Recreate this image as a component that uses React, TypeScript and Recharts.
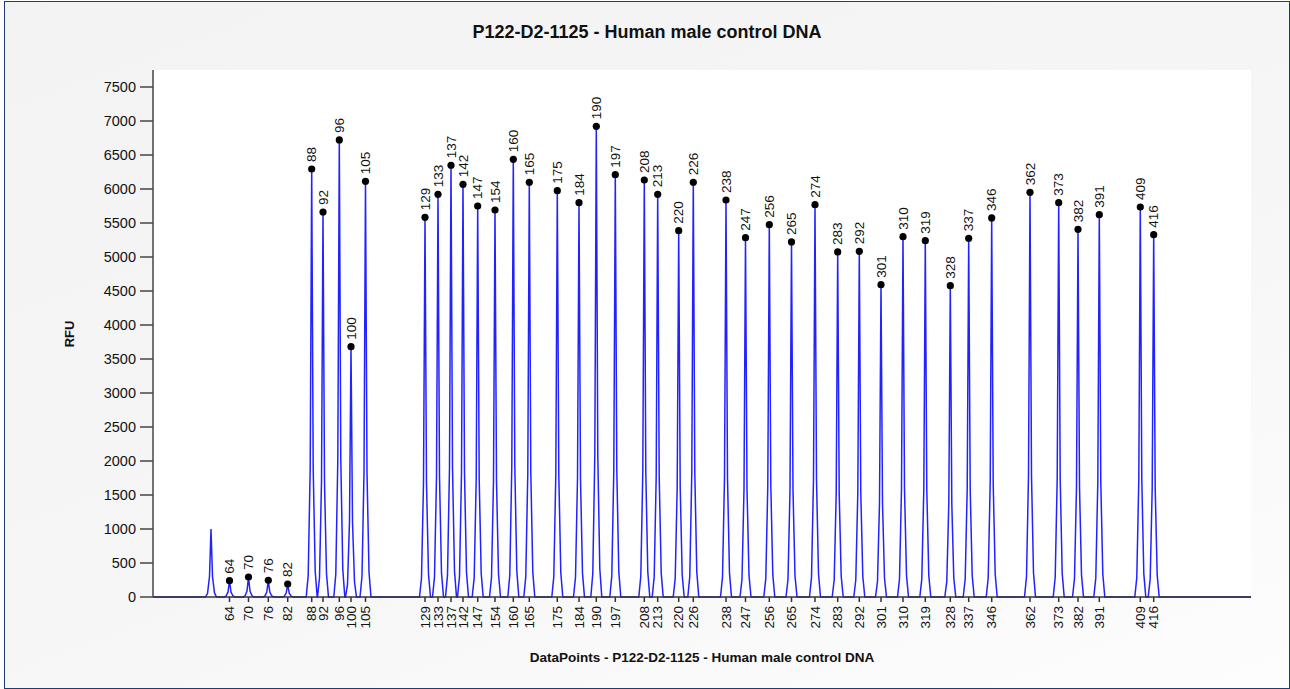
import React from "react";
import { LineChart, Line, XAxis, YAxis, CartesianGrid } from "recharts";

// fragment sizes (bp) shown on the peaks and as x tick labels
const SIZES = [
  64, 70, 76, 82, 88, 92, 96, 100, 105, 129, 133, 137, 142, 147, 154, 160, 165,
  175, 184, 190, 197, 208, 213, 220, 226, 238, 247, 256, 265, 274, 283, 292,
  301, 310, 319, 328, 337, 346, 362, 373, 382, 391, 409, 416,
];

// peak position in data points
const POSITIONS = [
  76.5, 95.5, 115.3, 134.7, 158.7, 170, 186.3, 198, 212.5, 272, 285, 298, 310,
  324.7, 342, 360.3, 376.3, 404.3, 426, 443.3, 462.3, 491.3, 504.7, 525.7,
  540.3, 573, 592.5, 616.3, 638.5, 662, 684.7, 706.3, 728, 750, 772.3, 797.3,
  815.7, 838.7, 877, 905.7, 925, 946.3, 987.3, 1000.7,
];

// peak height in RFU
const HEIGHTS = [
  240, 294, 245, 191, 6294, 5662, 6721, 3681, 6113, 5584, 5922, 6349, 6069,
  5750, 5691, 6437, 6099, 5975, 5799, 6922, 6210, 6132, 5922, 5387, 6099, 5838,
  5284, 5475, 5221, 5769, 5074, 5084, 4593, 5299, 5240, 4578, 5275, 5574, 5951,
  5799, 5407, 5622, 5735, 5328,
];

// unlabelled peak before the first size
const EXTRA_POSITIONS = [58];
const EXTRA_HEIGHTS = [1000];

const Y_TICKS = [0, 500, 1000, 1500, 2000, 2500, 3000, 3500, 4000, 4500, 5000, 5500, 6000, 6500, 7000, 7500];
const X_END = 1098;

// shape of one peak: offset in data points, fraction of peak height
const PEAK_OFFSETS = [-5.5, -3.5, -1.5, 0, 1.5, 3.5, 5.5];
const PEAK_FACTORS = [0, 0.05, 0.3, 1, 0.3, 0.06, 0];

type Pt = { x: number; y: number; size?: number };

const peaks = [
  ...EXTRA_POSITIONS.map((p, i) => ({ pos: p, h: EXTRA_HEIGHTS[i], size: undefined as number | undefined })),
  ...POSITIONS.map((p, i) => ({ pos: p, h: HEIGHTS[i], size: SIZES[i] })),
].sort((a, b) => a.pos - b.pos);

const trace: Pt[] = [{ x: 0, y: 0 }];
peaks.forEach((pk) => {
  PEAK_OFFSETS.forEach((o, j) => {
    const pt: Pt = { x: pk.pos + o, y: pk.h * PEAK_FACTORS[j] };
    if (o === 0 && pk.size !== undefined) pt.size = pk.size;
    trace.push(pt);
  });
});
trace.push({ x: X_END, y: 0 });

const FONT = "'Liberation Sans', Arial, sans-serif";

const PeakDot = (props: any) => {
  const { cx, cy, payload, index } = props;
  if (!payload || payload.size === undefined) return <g key={index} />;
  return (
    <g key={index}>
      <circle cx={cx} cy={cy} r={3.6} fill="#000" />
      <text
        transform={`translate(${cx + 4.5},${cy - 7}) rotate(-90)`}
        fontSize={13.5}
        fontFamily={FONT}
        fill="#111"
      >
        {payload.size}
      </text>
    </g>
  );
};

const XTick = (props: any) => {
  const { x, y, index } = props;
  return (
    <g transform={`translate(${x},${y})`}>
      <text transform="rotate(-90)" x={-2} y={4.5} textAnchor="end" fontSize={13.5} fontFamily={FONT} fill="#111">
        {SIZES[index]}
      </text>
    </g>
  );
};

export default function App() {
  return (
    <div style={{ position: "absolute", left: 0, top: 0, width: 1290, height: 689 }}>
      <div
        style={{
          position: "absolute",
          left: 4,
          top: 1,
          width: 1284,
          height: 686,
          border: "1px solid #1f3d6e",
          background: "linear-gradient(160deg, #f3f3f3 0%, #f6f6f6 55%, #fdfdfd 100%)",
        }}
      />
      <div
        style={{
          position: "absolute",
          left: 0,
          top: 22,
          width: 1294,
          textAlign: "center",
          fontFamily: FONT,
          fontWeight: "bold",
          fontSize: 18,
          color: "#111",
        }}
      >
        P122-D2-1125 - Human male control DNA
      </div>
      <div style={{ position: "absolute", left: 0, top: 0 }}>
        <LineChart width={1290} height={689} data={trace} margin={{ top: 70, right: 39, left: 93, bottom: 32 }}>
          <CartesianGrid fill="#ffffff" stroke="none" horizontal={false} vertical={false} />
          <XAxis
            dataKey="x"
            type="number"
            domain={[0, X_END]}
            ticks={POSITIONS}
            interval={0}
            tick={<XTick />}
            tickSize={5}
            tickMargin={2}
            height={60}
            stroke="#333"
            strokeWidth={1.5}
            label={{
              content: (p: any) => (
                <text
                  x={p.viewBox.x + p.viewBox.width / 2}
                  y={662}
                  textAnchor="middle"
                  fontSize={13.5}
                  fontWeight="bold"
                  fontFamily={FONT}
                  fill="#111"
                >
                  DataPoints - P122-D2-1125 - Human male control DNA
                </text>
              ),
            }}
          />
          <YAxis
            type="number"
            domain={[0, 7750]}
            ticks={Y_TICKS}
            interval={0}
            width={60}
            tickSize={13}
            tickMargin={4}
            stroke="#444"
            strokeWidth={1.5}
            tick={{ fontSize: 14.5, fill: "#111", fontFamily: FONT }}
            label={{
              content: () => (
                <text
                  transform="translate(74,334) rotate(-90)"
                  textAnchor="middle"
                  fontSize={13}
                  fontWeight="bold"
                  fontFamily={FONT}
                  fill="#111"
                >
                  RFU
                </text>
              ),
            }}
          />
          <Line
            dataKey="y"
            type="linear"
            stroke="#2222ff"
            strokeWidth={1.5}
            dot={PeakDot}
            activeDot={false}
            isAnimationActive={false}
          />
        </LineChart>
      </div>
    </div>
  );
}
